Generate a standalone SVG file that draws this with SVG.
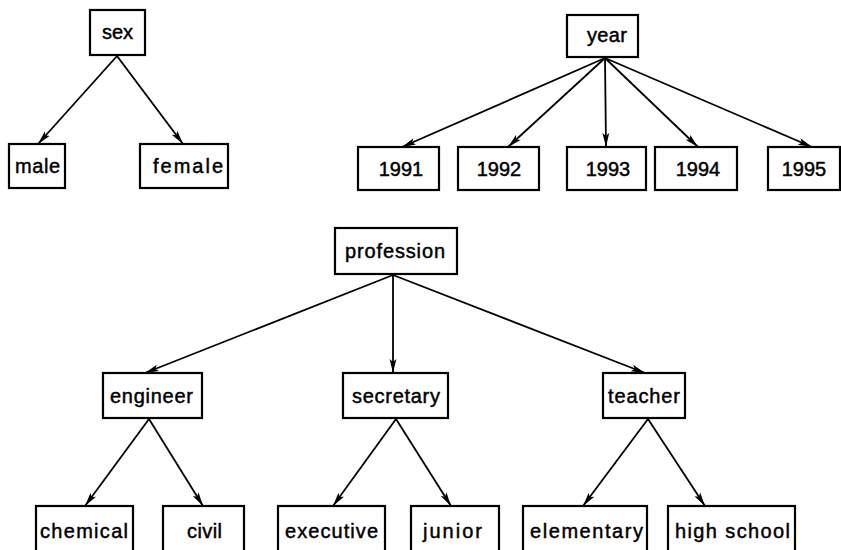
<svg xmlns="http://www.w3.org/2000/svg" width="841" height="550" viewBox="0 0 841 550">
<defs>
<style>
.box{fill:#fff;stroke:#000;stroke-width:2.2}
.lbl{font-family:"Liberation Sans",Arial,sans-serif;font-size:20px;fill:#000;stroke:#000;stroke-width:0.45;text-anchor:middle}
.edge{stroke:#000;stroke-width:1.8;fill:none;marker-end:url(#ah)}
</style>
<marker id="ah" markerUnits="userSpaceOnUse" markerWidth="16" markerHeight="8" refX="14" refY="4" orient="auto">
<path d="M0,0.6 L14,4 L0,7.4 L3,4 z" fill="#000"/>
</marker>
</defs>
<rect width="841" height="550" fill="#fff"/>
<g id="connectors">
<line class="edge" x1="117" y1="56" x2="38" y2="144"/>
<line class="edge" x1="117" y1="56" x2="183" y2="144"/>
<line class="edge" x1="605" y1="58" x2="402" y2="147"/>
<line class="edge" x1="605" y1="58" x2="508" y2="147"/>
<line class="edge" x1="605" y1="58" x2="606" y2="147"/>
<line class="edge" x1="605" y1="58" x2="698" y2="147"/>
<line class="edge" x1="605" y1="58" x2="812" y2="147"/>
<line class="edge" x1="393" y1="275" x2="145" y2="373"/>
<line class="edge" x1="393" y1="275" x2="393" y2="373"/>
<line class="edge" x1="393" y1="275" x2="645" y2="373"/>
<line class="edge" x1="149" y1="419" x2="85" y2="506"/>
<line class="edge" x1="149" y1="419" x2="203" y2="506"/>
<line class="edge" x1="396" y1="419" x2="333" y2="506"/>
<line class="edge" x1="396" y1="419" x2="451" y2="506"/>
<line class="edge" x1="648" y1="419" x2="583" y2="506"/>
<line class="edge" x1="648" y1="419" x2="705" y2="506"/>
</g>
<g id="sex"><rect class="box" x="90" y="10" width="55" height="45"/><text class="lbl" x="117.5" y="39" textLength="31" lengthAdjust="spacing">sex</text></g>
<g id="male"><rect class="box" x="9" y="144" width="56" height="44"/><text class="lbl" x="37.5" y="173" textLength="45" lengthAdjust="spacing">male</text></g>
<g id="female"><rect class="box" x="140" y="144" width="88" height="44"/><text class="lbl" x="188" y="173" textLength="70" lengthAdjust="spacing">female</text></g>
<g id="year"><rect class="box" x="567" y="15" width="71" height="42"/><text class="lbl" x="607" y="42" textLength="40" lengthAdjust="spacing">year</text></g>
<g id="y1991"><rect class="box" x="358" y="147" width="81" height="43"/><text class="lbl" x="401" y="176">1991</text></g>
<g id="y1992"><rect class="box" x="458" y="147" width="81" height="43"/><text class="lbl" x="499" y="176">1992</text></g>
<g id="y1993"><rect class="box" x="567" y="147" width="79" height="43"/><text class="lbl" x="608" y="176">1993</text></g>
<g id="y1994"><rect class="box" x="655" y="147" width="82" height="43"/><text class="lbl" x="698" y="176">1994</text></g>
<g id="y1995"><rect class="box" x="768" y="147" width="72" height="43"/><text class="lbl" x="804" y="176">1995</text></g>
<g id="profession"><rect class="box" x="335" y="228" width="122" height="46"/><text class="lbl" x="395" y="258" textLength="100" lengthAdjust="spacing">profession</text></g>
<g id="engineer"><rect class="box" x="103" y="373" width="99" height="45"/><text class="lbl" x="151.5" y="403" textLength="83" lengthAdjust="spacing">engineer</text></g>
<g id="secretary"><rect class="box" x="343" y="373" width="105" height="45"/><text class="lbl" x="396" y="403" textLength="88" lengthAdjust="spacing">secretary</text></g>
<g id="teacher"><rect class="box" x="603" y="373" width="82" height="45"/><text class="lbl" x="644" y="403" textLength="72" lengthAdjust="spacing">teacher</text></g>
<g id="chemical"><rect class="box" x="36" y="506" width="97" height="56"/><text class="lbl" x="84" y="538" textLength="88" lengthAdjust="spacing">chemical</text></g>
<g id="civil"><rect class="box" x="163" y="506" width="81" height="56"/><text class="lbl" x="204.5" y="538" textLength="35" lengthAdjust="spacing">civil</text></g>
<g id="executive"><rect class="box" x="278" y="506" width="107" height="56"/><text class="lbl" x="331.5" y="538" textLength="93" lengthAdjust="spacing">executive</text></g>
<g id="junior"><rect class="box" x="411" y="506" width="88" height="56"/><text class="lbl" x="452.5" y="538" textLength="59" lengthAdjust="spacing">junior</text></g>
<g id="elementary"><rect class="box" x="523" y="506" width="124" height="56"/><text class="lbl" x="586.5" y="538" textLength="113" lengthAdjust="spacing">elementary</text></g>
<g id="highschool"><rect class="box" x="668" y="506" width="127" height="56"/><text class="lbl" x="732.5" y="538" textLength="115" lengthAdjust="spacing">high school</text></g>
</svg>
